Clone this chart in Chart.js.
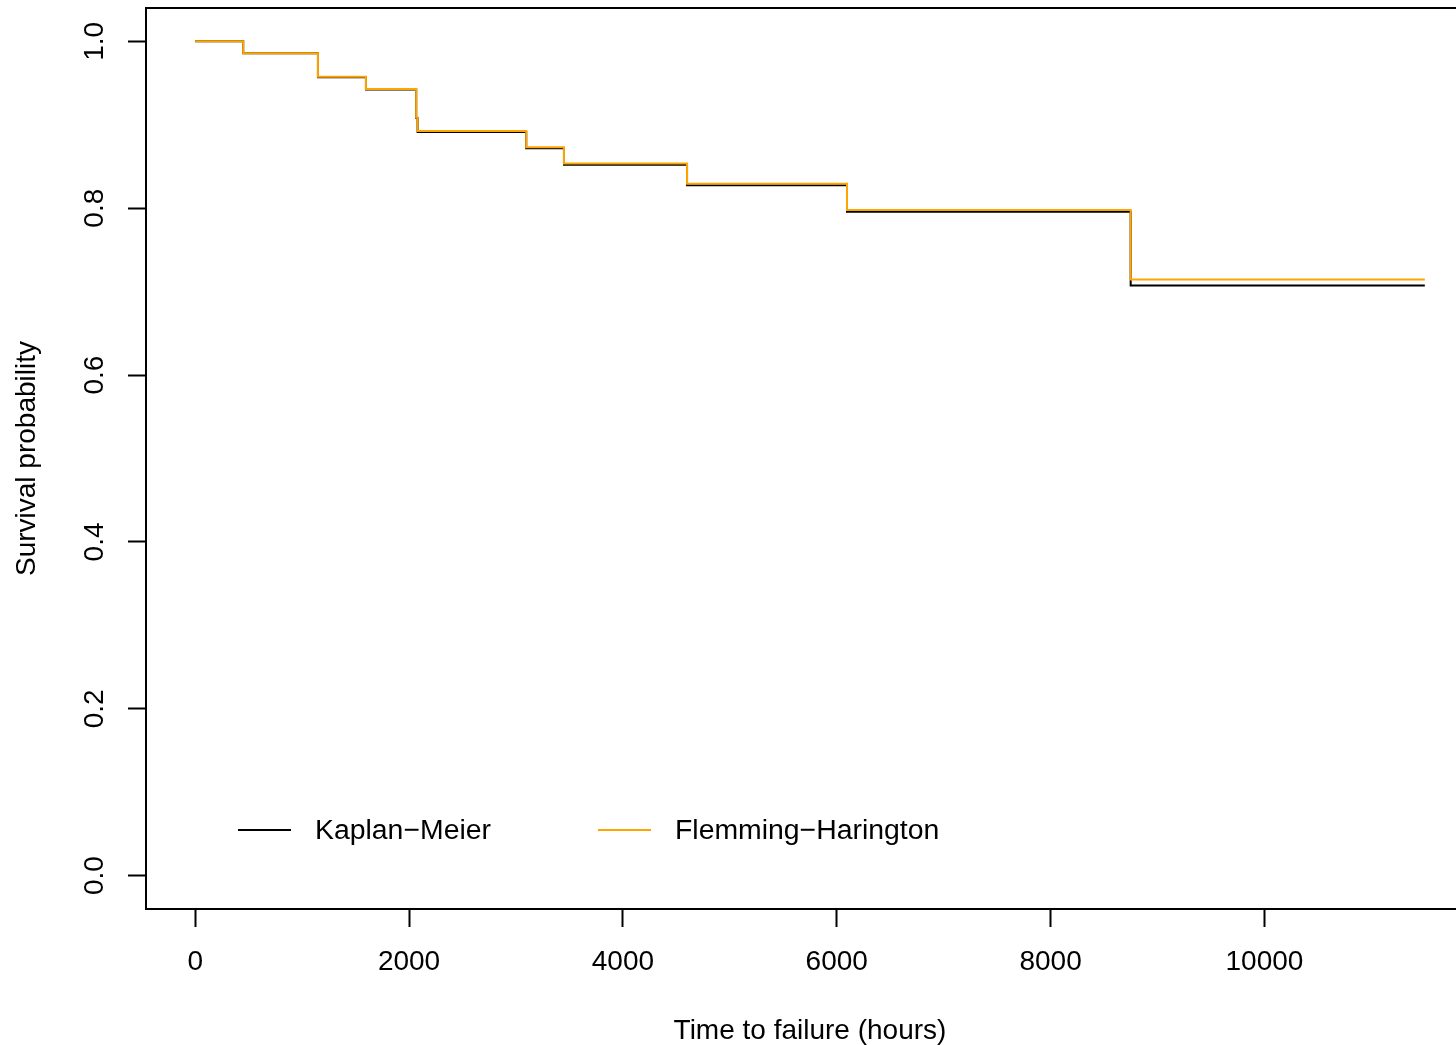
<!DOCTYPE html>
<html>
<head>
<meta charset="utf-8">
<script src="https://cdn.jsdelivr.net/npm/chart.js@4"></script>
<style>
  html, body { margin: 0; padding: 0; background: #fff; overflow: hidden; }
  #wrap { width: 1474px; height: 1045px; }
</style>
</head>
<body>
<div id="wrap"><canvas id="survChart" width="1474" height="1045"></canvas></div>
<script>
// --- Data ---
const times = [0, 449, 1148, 1597, 2067, 2080, 3096, 3449, 4600, 6096, 8749, 11500];
const kmSurv = [1, 0.9857, 0.9571, 0.9422, 0.9080, 0.8913, 0.8718, 0.8521, 0.8274, 0.7958, 0.7073, 0.7073];
const fhSurv = [1, 0.9858, 0.9575, 0.9428, 0.9088, 0.8925, 0.8732, 0.8537, 0.8293, 0.7979, 0.7146, 0.7146];
const xTicks = [0, 2000, 4000, 6000, 8000, 10000];
const yTicks = [0, 0.2, 0.4, 0.6, 0.8, 1.0];
const seriesNames = ["Kaplan\u2212Meier", "Flemming\u2212Harington"];
const seriesColors = ["#000000", "#FFA500"];

const FONT = "'Liberation Sans', Arial, Helvetica, sans-serif";

function toPoints(xs, ys) {
  return xs.map((x, i) => ({ x, y: ys[i] }));
}

// box round the plot region, like R's box()
const boxPlugin = {
  id: "box",
  afterDraw(chart) {
    const { ctx, chartArea: a } = chart;
    ctx.save();
    ctx.strokeStyle = "#000";
    ctx.lineWidth = 2;
    ctx.strokeRect(a.left, a.top, a.right - a.left, a.bottom - a.top);
    ctx.restore();
  }
};

// legend inside the plot, bottom left, two entries side by side
const insideLegend = {
  id: "insideLegend",
  afterDraw(chart) {
    const { ctx, chartArea: a } = chart;
    const y = a.bottom - 79;
    const starts = [a.left + 92, a.left + 452];
    ctx.save();
    ctx.font = "28.4px " + FONT;
    ctx.textBaseline = "middle";
    ctx.fillStyle = "#000";
    chart.data.datasets.forEach((ds, i) => {
      const x0 = starts[i];
      ctx.strokeStyle = ds.borderColor;
      ctx.lineWidth = 2;
      ctx.beginPath();
      ctx.moveTo(x0, y);
      ctx.lineTo(x0 + 53, y);
      ctx.stroke();
      ctx.fillText(ds.label, x0 + 77, y + 1);
    });
    ctx.restore();
  }
};

function renderChart() {
  const ctx = document.getElementById("survChart").getContext("2d");

  new Chart(ctx, {
    type: "scatter",
    data: {
      datasets: [
        {
          label: seriesNames[0],
          data: toPoints(times, kmSurv),
          borderColor: seriesColors[0],
          backgroundColor: seriesColors[0],
          borderWidth: 2,
          showLine: true,
          stepped: "before",
          pointRadius: 0,
          order: 1
        },
        {
          label: seriesNames[1],
          data: toPoints(times, fhSurv),
          borderColor: seriesColors[1],
          backgroundColor: seriesColors[1],
          borderWidth: 2,
          showLine: true,
          stepped: "before",
          pointRadius: 0,
          order: 0
        }
      ]
    },
    options: {
      responsive: false,
      animation: false,
      devicePixelRatio: 1,
      layout: { padding: { top: 8, right: 0, bottom: 0, left: 0 } },
      plugins: {
        legend: { display: false },
        tooltip: { enabled: false }
      },
      scales: {
        x: {
          type: "linear",
          min: -460,
          max: 11960,
          afterBuildTicks: s => { s.ticks = xTicks.map(v => ({ value: v })); },
          afterFit: s => { s.height = 136; s.paddingLeft = 0; s.paddingRight = 0; },
          border: { display: false },
          grid: { drawOnChartArea: false, drawTicks: true, tickLength: 18, tickWidth: 2, tickColor: "#000" },
          ticks: { color: "#000", font: { family: FONT, size: 28 }, padding: 18, maxRotation: 0, autoSkip: false, callback: v => String(v) },
          title: { display: true, text: "Time to failure (hours)", color: "#000", font: { family: FONT, size: 28 }, padding: { top: 0, bottom: -3 } }
        },
        y: {
          type: "linear",
          min: -0.04,
          max: 1.04,
          afterBuildTicks: s => { s.ticks = yTicks.map(v => ({ value: v })); },
          afterFit: s => { s.width = 146; s.paddingTop = 0; s.paddingBottom = 0; },
          border: { display: false },
          grid: { drawOnChartArea: false, drawTicks: true, tickLength: 18, tickWidth: 2, tickColor: "#000" },
          ticks: {
            color: "#000",
            font: { family: FONT, size: 28 },
            padding: 13,
            minRotation: 90,
            maxRotation: 90,
            crossAlign: "center",
            callback: v => v.toFixed(1)
          },
          title: { display: true, text: "Survival probability", color: "#000", font: { family: FONT, size: 28 }, padding: { top: 10, bottom: 0 } }
        }
      }
    },
    plugins: [boxPlugin, insideLegend]
  });
}

window.addEventListener("DOMContentLoaded", () => {
  renderChart();
});
</script>
</body>
</html>
